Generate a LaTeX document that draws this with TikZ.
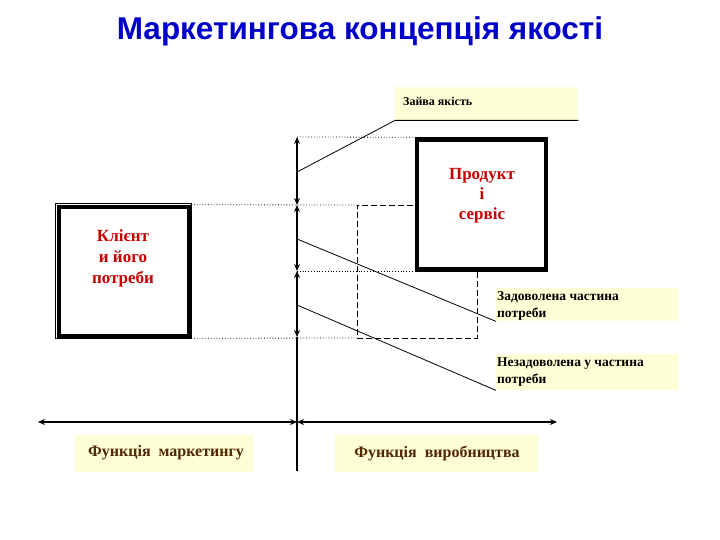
\documentclass[tikz,border=0pt]{standalone}
\usepackage{fontspec}
\setmainfont{Liberation Serif}
\newfontfamily\titlefont{Liberation Sans}
\usetikzlibrary{arrows.meta}
\definecolor{titleblue}{RGB}{0,0,200}
\definecolor{txtred}{RGB}{200,0,0}
\definecolor{txtbrown}{RGB}{80,40,0}
\definecolor{paleyellow}{RGB}{255,255,215}
\tikzset{
  axisline/.style={line width=1.6pt, black},
  tip/.style={{Stealth[length=7pt,width=6pt]}-{Stealth[length=7pt,width=6pt]}},
  bigbox/.style={draw=black, line width=4.5pt, fill=white, minimum width=130pt, minimum height=129pt, inner sep=0pt, align=center, text=txtred, font=\bfseries\fontsize{17}{21}\selectfont},
  guide/.style={dotted, line width=0.8pt},
  dashline/.style={dash pattern=on 6pt off 3pt, line width=0.8pt},
  note/.style={fill=paleyellow, inner sep=0pt, anchor=north west},
  pointer/.style={line width=0.8pt}
}
\begin{document}
\begin{tikzpicture}[x=1pt,y=-1pt]
\useasboundingbox (0,0) rectangle (720,540);
% title
\node[font=\titlefont\bfseries\fontsize{31.5}{36}\selectfont, text=titleblue] (title) at (360,31) {Маркетингова концепція якості};
% axis points
\coordinate (vtop) at (297,137);
\coordinate (v1) at (297,205);
\coordinate (v2) at (297,271);
\coordinate (v3) at (297,337);
\coordinate (vbot) at (297,471);
\coordinate (hl) at (38,422);
\coordinate (hc) at (297,422);
\coordinate (hr) at (557,422);
\coordinate (ca) at (297,172);
\coordinate (cb) at (297,239);
\coordinate (cc) at (297,305);
\coordinate (d1) at (357,205);
\coordinate (d2) at (357,338);
\coordinate (d3) at (477,338);
\coordinate (d4) at (477,272);
% notes (backgrounds)
\node[note, minimum width=183pt, minimum height=33pt] (zaiva) at (395,87) {};
\node[anchor=west, font=\bfseries\fontsize{12}{14}\selectfont, inner sep=0pt] (zaivat) at (403,101) {Зайва якість};
\node[note, minimum width=182pt, minimum height=33pt] (zad) at (496,288) {};
\node[anchor=north west, align=left, inner sep=0pt, font=\bfseries\fontsize{13.5}{17}\selectfont] (zadt) at (497,291) {Задоволена частина\\потреби};
\node[note, minimum width=182pt, minimum height=36pt] (nezad) at (496,354) {};
\node[anchor=north west, align=left, inner sep=0pt, font=\bfseries\fontsize{13.5}{17}\selectfont] (nezadt) at (497,357) {Незадоволена у частина\\потреби};
\node[note, minimum width=178pt, minimum height=37pt] (fm) at (75,435) {};
\node[font=\bfseries\fontsize{16}{18}\selectfont, text=txtbrown] (fmt) at (166,453) {Функція\ \ маркетингу};
\node[note, minimum width=203pt, minimum height=37pt] (fv) at (335,435) {};
\node[font=\bfseries\fontsize{16}{18}\selectfont, text=txtbrown] (fvt) at (437,453) {Функція\ \ виробництва};
% guides
\draw[dashline] (d4) -- (d3) -- (d2) -- (d1) -- (415,205);
% boxes
\node[bigbox] (client) at (124,271.5) {};
\draw[line width=0.7pt] ([xshift=-1.8pt,yshift=1.8pt]client.north west) rectangle ([xshift=0.5pt,yshift=-0.5pt]client.south east);
\node[text=txtred, font=\bfseries\fontsize{17}{21}\selectfont, align=center] (clientt) at (123,258) {Клієнт\\и його\\потреби};
\node[bigbox, minimum width=129pt, minimum height=130pt] (prod) at (481.5,204.5) {};
\node[text=txtred, font=\bfseries\fontsize{17}{20}\selectfont, align=center] (prodt) at (482,196) {Продукт\\і\\сервіс};
\draw[guide] (vtop) -- (prod.north west);
\draw[guide] (client.north east) -- (d1);
\draw[guide] (v2) -- (v2 -| prod.west);
\draw[guide] (client.south east) -- (d2);
% axes
\draw[axisline, tip] (vtop) -- (v1);
\draw[axisline, tip] (v1) -- (v2);
\draw[axisline, tip] (v2) -- (v3);
\draw[axisline] (v3) -- (vbot);
\draw[axisline, tip] (hl) -- (hc);
\draw[axisline, tip] (hc) -- (hr);
% pointers
\draw[pointer] (ca) -- (zaiva.south west) -- (zaiva.south east);
\draw[pointer] (cb) -- (zad.south west);
\draw[pointer] (cc) -- (nezad.south west);
\end{tikzpicture}
\end{document}
